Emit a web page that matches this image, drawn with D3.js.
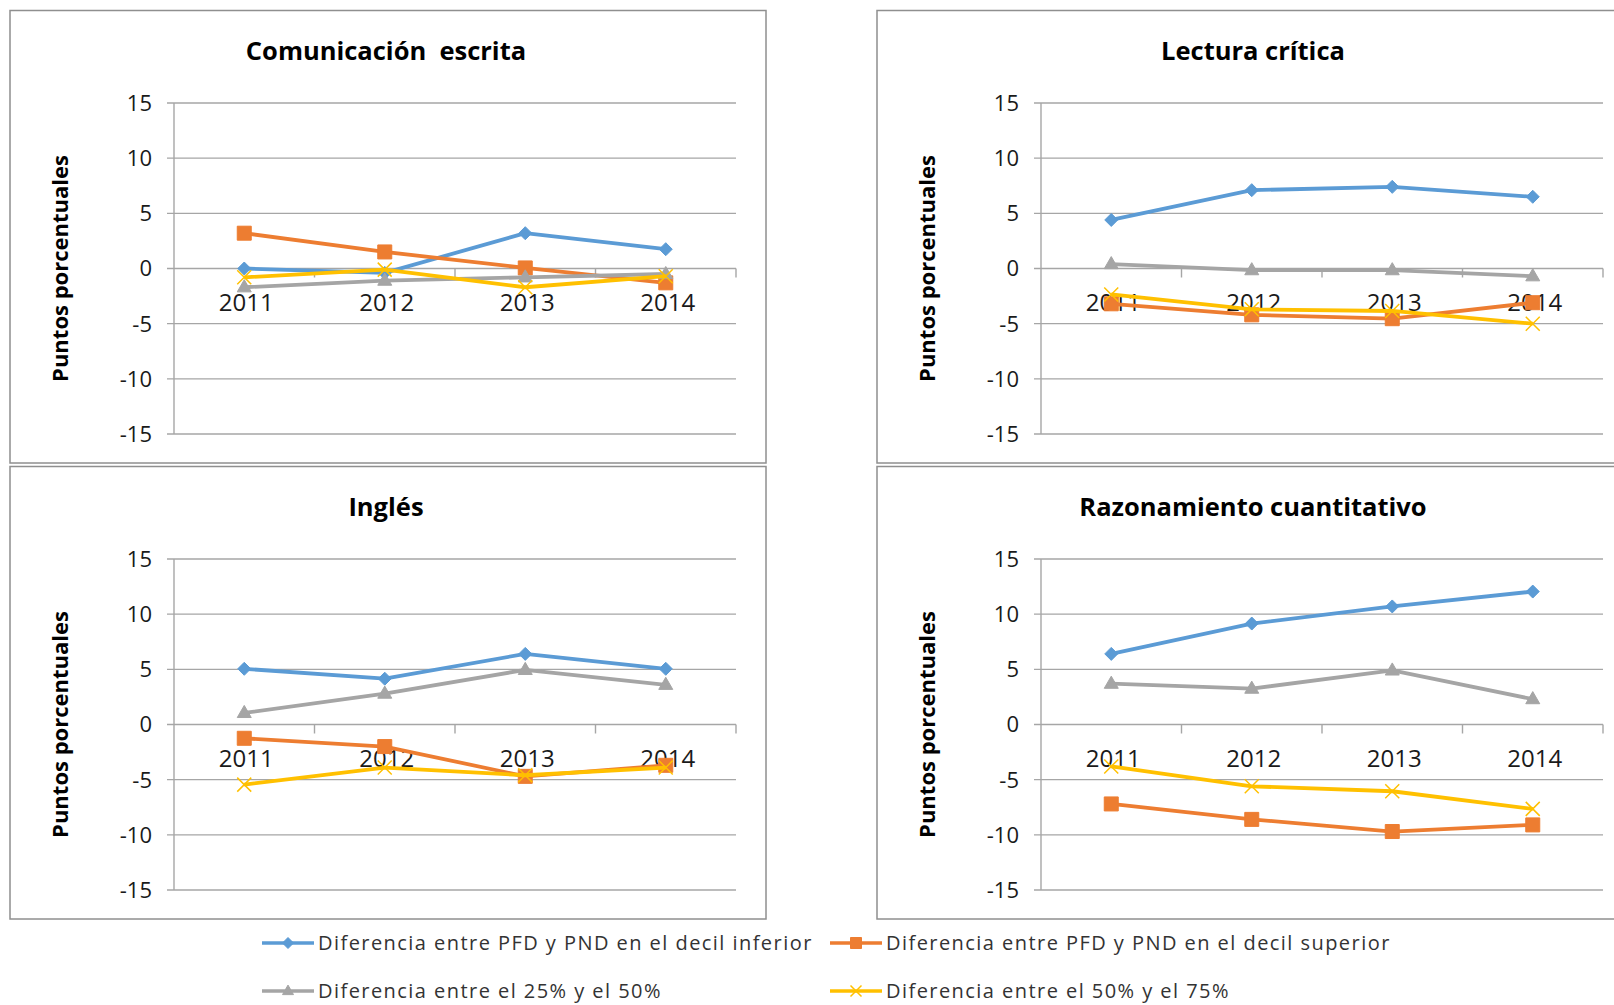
<!DOCTYPE html>
<html>
<head>
<meta charset="utf-8">
<script src="https://cdn.jsdelivr.net/npm/d3@7/dist/d3.min.js"></script>
<style>
  html, body { margin: 0; padding: 0; background: #ffffff; }
  svg { display: block; }
  text { white-space: pre; }
</style>
</head>
<body>
<svg id="chart" width="1614" height="1005"></svg>
<script>
// ---------- DATA ----------
const years = ["2011", "2012", "2013", "2014"];
const yTicks = [15, 10, 5, 0, -5, -10, -15];
const panelTitles = ["Comunicación  escrita", "Lectura crítica", "Inglés", "Razonamiento cuantitativo"];
const yAxisTitle = "Puntos porcentuales";
const seriesNames = [
  "Diferencia entre PFD y PND en el decil inferior",
  "Diferencia entre PFD y PND en el decil superior",
  "Diferencia entre el 25% y el 50%",
  "Diferencia entre el 50% y el 75%"
];

// Comunicación escrita
const escritaInferior = [0.0, -0.4, 3.2, 1.75];
const escritaSuperior = [3.2, 1.5, 0.05, -1.3];
const escrita2550 = [-1.7, -1.1, -0.8, -0.5];
const escrita5075 = [-0.8, -0.1, -1.7, -0.7];
// Lectura crítica
const lecturaInferior = [4.4, 7.1, 7.4, 6.5];
const lecturaSuperior = [-3.2, -4.2, -4.55, -3.1];
const lectura2550 = [0.4, -0.15, -0.15, -0.7];
const lectura5075 = [-2.35, -3.7, -3.85, -5.0];
// Inglés
const inglesInferior = [5.05, 4.15, 6.4, 5.05];
const inglesSuperior = [-1.25, -2.0, -4.7, -3.7];
const ingles2550 = [1.05, 2.8, 4.95, 3.6];
const ingles5075 = [-5.45, -3.9, -4.6, -3.9];
// Razonamiento cuantitativo
const razonInferior = [6.4, 9.15, 10.7, 12.05];
const razonSuperior = [-7.2, -8.6, -9.7, -9.1];
const razon2550 = [3.7, 3.25, 4.9, 2.3];
const razon5075 = [-3.8, -5.6, -6.05, -7.65];

const panelSeries = [
  [escritaInferior, escritaSuperior, escrita2550, escrita5075],
  [lecturaInferior, lecturaSuperior, lectura2550, lectura5075],
  [inglesInferior, inglesSuperior, ingles2550, ingles5075],
  [razonInferior, razonSuperior, razon2550, razon5075]
];

// ---------- STYLE ----------
const colors = ["#5B9BD5", "#ED7D31", "#A5A5A5", "#FFC000"];
const markerTypes = ["diamond", "square", "triangle", "x"];
const FONT = "'Open Sans', 'Noto Sans', sans-serif";

const svg = d3.select("#chart");

// panel layout: [left, top] of each panel frame
const panelOrigins = [[10, 10.5], [877, 10.5], [10, 466.5], [877, 466.5]];
const frameW = 756, frameH = 452.5;
// plot area relative to frame
const plotL = 164, plotR = 726, plotT = 92.5, plotB = 423.5;

function markerPath(type, s) {
  const h = s / 2;
  if (type === "diamond") return `M0,${-h}L${h},0L0,${h}L${-h},0Z`;
  if (type === "square") return `M${-h},${-h}H${h}V${h}H${-h}Z`;
  if (type === "triangle") { const t = s * 0.866; return `M0,${-t*0.62}L${h},${t*0.38}L${-h},${t*0.38}Z`; }
  return `M${-h},${-h}L${h},${h}M${-h},${h}L${h},${-h}`;
}

panelSeries.forEach((seriesList, pi) => {
  const [ox, oy] = panelOrigins[pi];
  const g = svg.append("g").attr("transform", `translate(${ox},${oy})`);

  // frame
  g.append("rect")
    .attr("x", 0).attr("y", 0)
    .attr("width", frameW).attr("height", frameH)
    .attr("fill", "#fff").attr("stroke", "#8f8f8f").attr("stroke-width", 1.5);

  const x = d3.scaleBand().domain(years).range([plotL, plotR]);
  const y = d3.scaleLinear().domain([-15, 15]).range([plotB, plotT]);

  // title
  g.append("text")
    .attr("x", frameW / 2 - 2).attr("y", 49)
    .attr("text-anchor", "middle")
    .attr("font-family", FONT).attr("font-weight", 700).attr("font-size", 25.5)
    .attr("fill", "#000")
    .text(panelTitles[pi]);

  // y axis title
  g.append("text")
    .attr("transform", `translate(${58},${(plotT + plotB) / 2}) rotate(-90)`)
    .attr("text-anchor", "middle")
    .attr("font-family", FONT).attr("font-weight", 700).attr("font-size", 22)
    .attr("fill", "#000")
    .text(yAxisTitle);

  // gridlines with left tick stubs
  g.append("g").selectAll("line").data(yTicks).join("line")
    .attr("x1", plotL - 7).attr("x2", plotR)
    .attr("y1", d => y(d)).attr("y2", d => y(d))
    .attr("stroke", "#a6a6a6").attr("stroke-width", 1.4);

  // y tick labels
  g.append("g").selectAll("text").data(yTicks).join("text")
    .attr("x", plotL - 22).attr("y", d => y(d))
    .attr("dy", "0.36em")
    .attr("text-anchor", "end")
    .attr("font-family", FONT).attr("font-size", 22).attr("fill", "#1a1a1a")
    .text(d => d);

  // y axis line
  g.append("line")
    .attr("x1", plotL).attr("x2", plotL)
    .attr("y1", y(15)).attr("y2", y(-15))
    .attr("stroke", "#a6a6a6").attr("stroke-width", 1.4);

  // x axis tick marks at band boundaries
  const boundaries = years.map(d => x(d) + x.bandwidth());
  g.append("g").selectAll("line").data(boundaries).join("line")
    .attr("x1", d => d).attr("x2", d => d)
    .attr("y1", y(0)).attr("y2", y(0) + 9)
    .attr("stroke", "#a6a6a6").attr("stroke-width", 1.4);

  // year labels
  g.append("g").selectAll("text").data(years).join("text")
    .attr("x", d => x(d) + x.bandwidth() / 2 + 2)
    .attr("y", y(0) + 42)
    .attr("text-anchor", "middle")
    .attr("font-family", FONT).attr("font-size", 24).attr("fill", "#1a1a1a")
    .text(d => d);

  // series
  const line = d3.line()
    .x((d, i) => x(years[i]) + x.bandwidth() / 2)
    .y(d => y(d));

  seriesList.forEach((vals, si) => {
    const sg = g.append("g");
    sg.append("path")
      .datum(vals)
      .attr("d", line)
      .attr("fill", "none")
      .attr("stroke", colors[si])
      .attr("stroke-width", 3.8)
      .attr("stroke-linejoin", "round");
    const isX = markerTypes[si] === "x";
    const size = si === 0 ? 13 : 14;
    sg.selectAll("path.m").data(vals).join("path")
      .attr("class", "m")
      .attr("transform", (d, i) => `translate(${x(years[i]) + x.bandwidth() / 2},${y(d)})`)
      .attr("d", markerPath(markerTypes[si], size))
      .attr("fill", isX ? "none" : colors[si])
      .attr("stroke", colors[si])
      .attr("stroke-width", isX ? 1.5 : 1);
  });
});

// ---------- LEGEND ----------
const legendPos = [[262, 943], [830, 943], [262, 991], [830, 991]];
const lg = svg.append("g");
seriesNames.forEach((name, i) => {
  const [lx, ly] = legendPos[i];
  const item = lg.append("g").attr("transform", `translate(${lx},${ly})`);
  item.append("line")
    .attr("x1", 0).attr("x2", 52).attr("y1", 0).attr("y2", 0)
    .attr("stroke", colors[i]).attr("stroke-width", 3.5);
  item.append("path")
    .attr("transform", "translate(26,0)")
    .attr("d", markerPath(markerTypes[i], 11))
    .attr("fill", markerTypes[i] === "x" ? "none" : colors[i])
    .attr("stroke", colors[i])
    .attr("stroke-width", markerTypes[i] === "x" ? 1.5 : 1);
  item.append("text")
    .attr("x", 56).attr("y", 0).attr("dy", "0.35em")
    .attr("font-family", FONT).attr("font-size", 20)
    .attr("letter-spacing", 1.45)
    .attr("fill", "#333")
    .text(name);
});
</script>
</body>
</html>
